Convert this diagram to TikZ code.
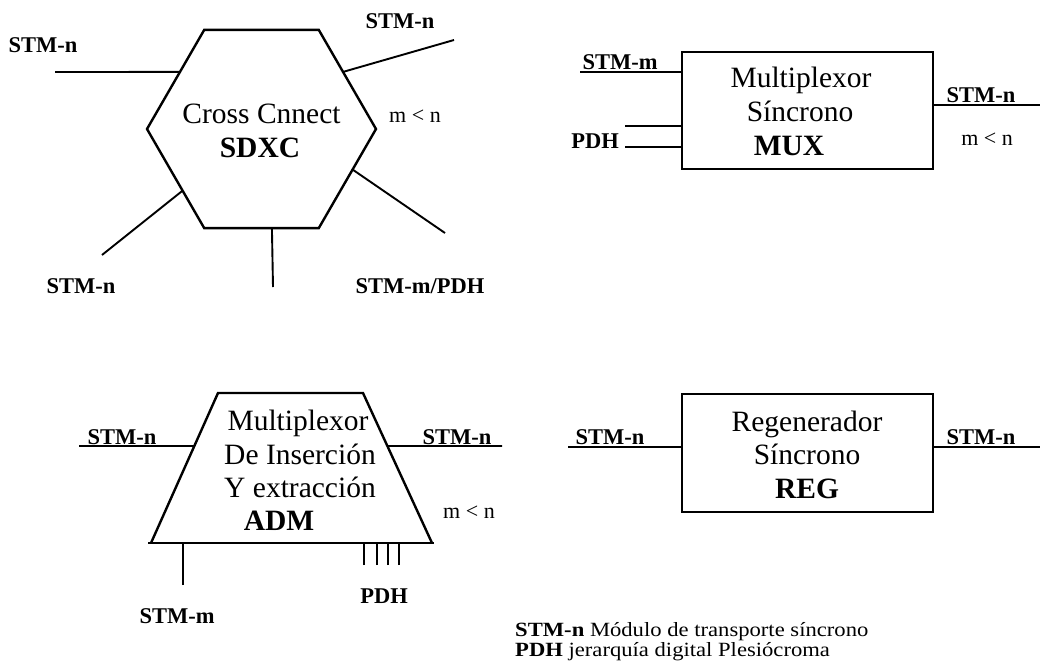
\documentclass[tikz,border=0pt]{standalone}
\usepackage{fontspec}
\setmainfont{Liberation Serif}
\newfontfamily\notefont[FakeStretch=1.12]{Liberation Serif}
\usetikzlibrary{shapes.geometric,calc}

\begin{document}
\begin{tikzpicture}[x=1pt,y=-1pt,
  wire/.style={line width=1.9pt},
  frame/.style={draw, line width=2.4pt, inner sep=0pt, outer sep=0pt},
  big/.style={font=\fontsize{29.5}{34}\selectfont, inner sep=0pt, anchor=base},
  bigb/.style={font=\fontsize{29.5}{34}\selectfont\bfseries, inner sep=0pt, anchor=base},
  tag/.style={font=\fontsize{22.5}{26}\selectfont\bfseries, inner sep=0pt, anchor=base},
  rel/.style={font=\fontsize{22}{26}\selectfont, inner sep=0pt, anchor=base},
  note/.style={font=\notefont\fontsize{20.2}{22}\selectfont, inner sep=0pt, anchor=base west},
]
\fill[white] (0,0) rectangle (1040,662);
\useasboundingbox (0,0) rectangle (1040,662);

% ---------- Cross connect (SDXC) ----------
\node[frame, regular polygon, regular polygon sides=6, minimum size=229pt] (hex) at (261.5,129) {};
\node[big]  (hexA) at (261.5,123) {Cross Cnnect};
\node[bigb] (hexB) at (260,157) {SDXC};

\coordinate (h1) at (55,72);
\coordinate (h2) at (454,40);
\coordinate (h3) at (102,255);
\coordinate (h4) at (273,287);
\coordinate (h5) at (445,233);
\draw[wire] (h1) -- (hex.145.7);
\draw[wire] (h2) -- (hex.35.4);
\draw[wire] (h3) -- (hex.218);
\draw[wire] (h4) -- (hex.276.6);
\draw[wire] (h5) -- (hex.336.1);

\node[tag] (hl1) at (43,52)  {STM-n};
\node[tag] (hl2) at (400,28) {STM-n};
\node[rel] (hl6) at (415,122) {m < n};
\node[tag] (hl3) at (81,293) {STM-n};
\node[tag] (hl5) at (420,293) {STM-m/PDH};

% ---------- Synchronous multiplexer (MUX) ----------
\node[frame, minimum width=251pt, minimum height=117pt] (mux) at (807.5,110.5) {};
\node[big]  (muxA) at (801,87)  {Multiplexor};
\node[big]  (muxB) at (800,121) {Síncrono};
\node[bigb] (muxC) at (789,155) {MUX};

\coordinate (m1) at (580,72);
\coordinate (m2) at (625,126);
\coordinate (m3) at (625,147);
\coordinate (m4) at (1040,105);
\draw[wire] (m1) -- (m1 -| mux.west);
\draw[wire] (m2) -- (m2 -| mux.west);
\draw[wire] (m3) -- (m3 -| mux.west);
\draw[wire] (m4 -| mux.east) -- (m4);

\node[tag] (ml1) at (620,69)  {STM-m};
\node[tag] (ml2) at (595,148) {PDH};
\node[tag] (ml3) at (981,102) {STM-n};
\node[rel] (ml4) at (987,145) {m < n};

% ---------- Add-drop multiplexer (ADM) ----------
\coordinate (tl) at (218,393);
\coordinate (tr) at (363,393);
\coordinate (br) at (432,543);
\coordinate (bl) at (151,543);
\draw[line width=2.4pt, line join=miter] (bl) -- (tl) -- (tr) -- (br);
\draw[line width=2.4pt] ($(bl)+(-3,0)$) -- ($(br)+(2,0)$);

\node[big]  (admA) at (298,430) {Multiplexor};
\node[big]  (admB) at (300,464) {De Inserción};
\node[big]  (admC) at (300,497) {Y extracción};
\node[bigb] (admD) at (279,530) {ADM};

\coordinate (a1) at (79,446);
\coordinate (a2) at (502,446);
\coordinate (a3) at (183,585);
\draw[wire] (a1) -- ($(tl)!0.353!(bl)$);
\draw[wire] ($(tr)!0.353!(br)$) -- (a2);
\draw[wire] (a3) -- (a3 |- bl);
\foreach \px [count=\k] in {364,377,388,399} {
  \coordinate (p\k) at (\px,565);
  \draw[wire] (p\k) -- (p\k |- bl);
}

\node[tag] (al1) at (122,444) {STM-n};
\node[tag] (al2) at (457,444) {STM-n};
\node[rel] (al3) at (469,518) {m < n};
\node[tag] (al4) at (177,623) {STM-m};
\node[tag] (al5) at (384,603) {PDH};

% ---------- Synchronous regenerator (REG) ----------
\node[frame, minimum width=251pt, minimum height=118pt] (reg) at (807.5,453) {};
\node[big]  (regA) at (807,431) {Regenerador};
\node[big]  (regB) at (807,464) {Síncrono};
\node[bigb] (regC) at (807,498) {REG};

\coordinate (r1) at (568,447);
\coordinate (r2) at (1040,447);
\draw[wire] (r1) -- (r1 -| reg.west);
\draw[wire] (r2 -| reg.east) -- (r2);

\node[tag] (rl1) at (610,444) {STM-n};
\node[tag] (rl2) at (981,444) {STM-n};

% ---------- Legend ----------
\node[note] (n1) at (515,636) {\textbf{STM-n} Módulo de transporte síncrono};
\node[note] (n2) at (515,656) {\textbf{PDH} jerarquía digital Plesiócroma};
\end{tikzpicture}
\end{document}
